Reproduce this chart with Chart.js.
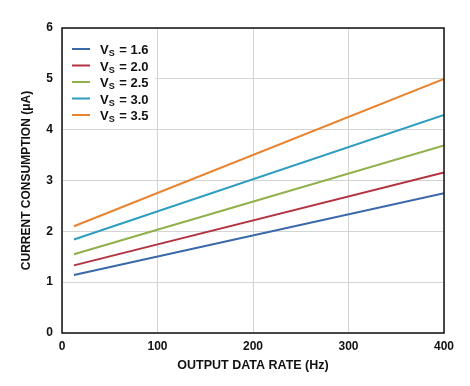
<!DOCTYPE html>
<html>
<head>
<meta charset="utf-8">
<script src="https://cdn.jsdelivr.net/npm/chart.js@4.4.0/dist/chart.umd.min.js"></script>
<style>
  html, body { margin: 0; padding: 0; background: #fff; }
  #wrap { width: 470px; height: 386px; }
</style>
</head>
<body>
<div id="wrap"><canvas id="odrChart"></canvas></div>
<script>
'use strict';

// output data rate (Hz) at the two ends of each line
var odr = [12.5, 400];
// supply voltages and current consumption (uA)
var supplies = ['1.6', '2.0', '2.5', '3.0', '3.5'];
var vs16 = [1.14, 2.75];
var vs20 = [1.33, 3.16];
var vs25 = [1.55, 3.69];
var vs30 = [1.84, 4.29];
var vs35 = [2.10, 5.00];
var xTicks = [0, 100, 200, 300, 400];
var yTicks = [0, 1, 2, 3, 4, 5, 6];

var colors = ['#3a68a8', '#b3323f', '#8fb04a', '#2f9dc0', '#e8832f'];
var FONT = '"Liberation Sans", Arial, sans-serif';

function toPoints(ys) {
    return odr.map(function (x, i) { return { x: x, y: ys[i] }; });
}

var datasets = [vs16, vs20, vs25, vs30, vs35].map(function (ys, i) {
    return {
        label: 'VS = ' + supplies[i],
        data: toPoints(ys),
        borderColor: colors[i],
        backgroundColor: colors[i],
        borderWidth: 2,
        pointRadius: 0,
        fill: false
    };
});

// legend with subscript S, on a white patch over the grid
var subLegend = {
    id: 'subLegend',
    beforeDatasetsDraw: function (chart) {
        var ctx = chart.ctx, a = chart.chartArea;
        ctx.save();
        ctx.fillStyle = '#fff';
        ctx.fillRect(a.left + 1, a.top + 1, 92, 97);
        chart.data.datasets.forEach(function (ds, i) {
            var y = 49 + i * 16.5;
            ctx.strokeStyle = ds.borderColor;
            ctx.lineWidth = 2;
            ctx.beginPath();
            ctx.moveTo(72, y);
            ctx.lineTo(90, y);
            ctx.stroke();
            ctx.fillStyle = '#111';
            ctx.textBaseline = 'alphabetic';
            ctx.font = 'bold 13px ' + FONT;
            var x = 100;
            ctx.fillText('V', x, y + 5);
            x += ctx.measureText('V').width;
            ctx.font = 'bold 9px ' + FONT;
            ctx.fillText('S', x, y + 7);
            x += ctx.measureText('S').width + 1;
            ctx.font = 'bold 13px ' + FONT;
            ctx.fillText(' = ' + supplies[i], x, y + 5);
        });
        ctx.restore();
    },
    afterDatasetsDraw: function (chart) {
        var ctx = chart.ctx, a = chart.chartArea;
        ctx.save();
        ctx.strokeStyle = '#111';
        ctx.lineWidth = 1.5;
        ctx.strokeRect(a.left, a.top, a.right - a.left, a.bottom - a.top);
        ctx.restore();
    }
};

new Chart(document.getElementById('odrChart').getContext('2d'), {
    type: 'line',
    data: { datasets: datasets },
    plugins: [subLegend],
    options: {
        responsive: true,
        maintainAspectRatio: false,
        animation: false,
        layout: { padding: { left: 0, top: 28, right: 26, bottom: 0 } },
        plugins: {
            legend: { display: false },
            tooltip: { enabled: false }
        },
        scales: {
            x: {
                type: 'linear',
                min: 0,
                max: 400,
                afterBuildTicks: function (s) { s.ticks = xTicks.map(function (v) { return { value: v }; }); },
                afterFit: function (s) { s.height = 53; },
                grid: { color: '#d4d4d4', lineWidth: 1, drawTicks: false },
                border: { display: false },
                ticks: { color: '#111', padding: 6, font: { family: FONT, size: 12, weight: 'bold' } },
                title: {
                    display: true,
                    text: 'OUTPUT DATA RATE (Hz)',
                    color: '#111',
                    padding: { top: 6, bottom: 13 },
                    font: { family: FONT, size: 12.5, weight: 'bold' }
                }
            },
            y: {
                min: 0,
                max: 6,
                afterBuildTicks: function (s) { s.ticks = yTicks.map(function (v) { return { value: v }; }); },
                afterFit: function (s) { s.width = 62; },
                grid: { color: '#d4d4d4', lineWidth: 1, drawTicks: false },
                border: { display: false },
                ticks: { color: '#111', padding: 9, font: { family: FONT, size: 12, weight: 'bold' } },
                title: {
                    display: true,
                    text: 'CURRENT CONSUMPTION (\u03bcA)',
                    color: '#111',
                    padding: { top: 19, bottom: 0 },
                    font: { family: FONT, size: 12, weight: 'bold' }
                }
            }
        }
    }
});
</script>
</body>
</html>
